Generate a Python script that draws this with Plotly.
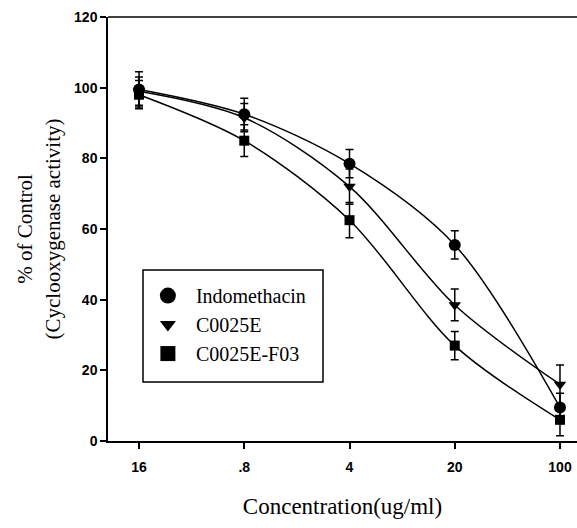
import plotly.graph_objects as go

conc = [0.16, 0.8, 4, 20, 100]
tick_labels = ["16", ".8", "4", "20", "100"]

indo = [99.5, 92.5, 78.5, 55.5, 9.5]
indo_err = [5, 4.5, 4, 4, 4]
c25e = [99, 91.5, 72, 38.5, 16]
c25e_err = [4, 4, 5, 4.5, 5.5]
f03 = [98, 85, 62.5, 27, 6]
f03_err = [4, 4.5, 5, 4, 4.5]

series = [
    ("Indomethacin", indo, indo_err, "circle", 12, 17),
    ("C0025E", c25e, c25e_err, "triangle-down", 11, 14),
    ("C0025E-F03", f03, f03_err, "square", 10, 15),
]

fig = go.Figure()
for name, y, e, sym, sz, lsz in series:
    fig.add_trace(go.Scatter(
        x=conc, y=y, name=name, mode="lines+markers", showlegend=False,
        line=dict(color="black", width=1.5, shape="spline", smoothing=0.9),
        marker=dict(symbol=sym, size=sz, color="black"),
        error_y=dict(type="data", array=e, visible=True, color="black",
                     thickness=1.5, width=4),
    ))
for name, y, e, sym, sz, lsz in series:
    fig.add_trace(go.Scatter(
        x=[None], y=[None], name=name, mode="markers", legendgroup=name,
        marker=dict(symbol=sym, size=lsz, color="black"),
    ))

serif = "Liberation Serif, Times New Roman, serif"
sans = "Liberation Sans, Arial, sans-serif"

fig.update_layout(
    width=577, height=528,
    margin=dict(l=108, r=0, t=17, b=87),
    plot_bgcolor="white", paper_bgcolor="white",
    showlegend=True,
    legend=dict(
        x=0.068, y=0.389, xanchor="left", yanchor="top",
        borderwidth=0, bgcolor="rgba(0,0,0,0)",
        font=dict(family=serif, size=20, color="black"),
        itemsizing="trace", tracegroupgap=0, itemwidth=46,
    ),
)
# legend frame
fig.add_shape(type="rect", xref="paper", yref="paper",
              x0=(143 - 108) / 469, x1=(323 - 108) / 469,
              y0=(441 - 382) / 424, y1=(441 - 270) / 424,
              line=dict(color="black", width=1.5), fillcolor="white", layer="above")

fig.update_xaxes(
    type="log", range=[-1.002, 2.113],
    tickvals=conc, ticktext=tick_labels,
    ticks="outside", ticklen=6, tickwidth=1.5, tickcolor="black",
    ticklabelstandoff=6,
    showline=True, linecolor="black", linewidth=1.5, mirror=False,
    showgrid=False, zeroline=False,
    tickfont=dict(family=sans, size=14, color="black", weight="bold"),
    title=dict(text="Concentration(ug/ml)", standoff=24,
               font=dict(family=serif, size=23, color="black")),
)
fig.update_yaxes(
    range=[0, 120], tickvals=[0, 20, 40, 60, 80, 100, 120],
    ticks="outside", ticklen=6, tickwidth=1.5, tickcolor="black",
    showline=True, linecolor="black", linewidth=1.5,
    showgrid=False, zeroline=False,
    tickfont=dict(family=sans, size=14, color="black", weight="bold"),
    title=dict(text="% of Control<br>(Cyclooxygenase activity)", standoff=8,
               font=dict(family=serif, size=21, color="black")),
)
# top frame line
fig.add_shape(type="line", xref="paper", yref="paper", x0=0, x1=1, y0=1, y1=1,
              line=dict(color="black", width=1.5))

fig.write_html("out.html")
